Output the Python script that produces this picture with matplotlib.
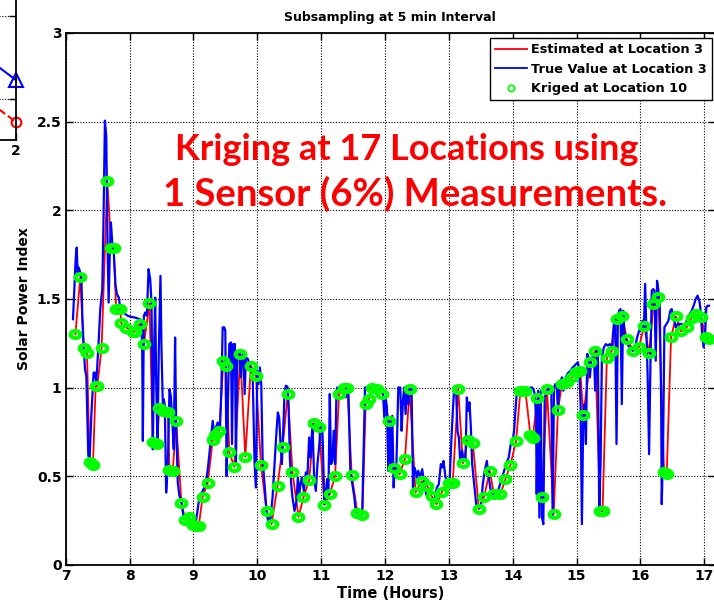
import numpy as np
import matplotlib
matplotlib.use("Agg")
import matplotlib.pyplot as plt
from matplotlib.path import Path
from matplotlib.transforms import Affine2D
from matplotlib.lines import Line2D

# ---------------- data ----------------
true_t = [7.114, 7.156, 7.172, 7.187, 7.203, 7.229, 7.244, 7.260, 7.281, 7.302, 7.323, 7.354, 7.375, 7.401,
          7.437, 7.458, 7.479, 7.510, 7.541, 7.573, 7.593, 7.614, 7.635, 7.656, 7.672, 7.692, 7.708, 7.729,
          7.750, 7.781, 7.802, 7.833, 7.854, 7.896, 7.937, 7.974, 8.026, 8.078, 8.130, 8.182, 8.198, 8.208,
          8.224, 8.245, 8.271, 8.297, 8.323, 8.344, 8.364, 8.385, 8.401, 8.417, 8.437, 8.458, 8.484, 8.500,
          8.521, 8.536, 8.552, 8.573, 8.599, 8.625, 8.646, 8.666, 8.692, 8.713, 8.729, 8.755, 8.781, 8.807,
          8.843, 8.885, 8.937, 8.989,
          9.041, 9.093, 9.145, 9.197, 9.239, 9.275, 9.302, 9.322, 9.354, 9.380, 9.416, 9.437, 9.458, 9.484,
          9.499, 9.520, 9.541, 9.562, 9.588, 9.604, 9.624, 9.650, 9.666, 9.687, 9.718, 9.744, 9.760, 9.781,
          9.802, 9.822, 9.854, 9.874, 9.906, 9.927, 9.958, 9.979, 9.999, 10.020, 10.041, 10.062, 10.083,
          10.109, 10.145, 10.176, 10.208, 10.239, 10.270, 10.301, 10.322, 10.343, 10.364, 10.385, 10.406,
          10.426, 10.447, 10.473, 10.489, 10.510, 10.531, 10.551, 10.583, 10.614, 10.635, 10.656, 10.676,
          10.697, 10.729, 10.760, 10.786, 10.812, 10.833, 10.864, 10.890, 10.916, 10.942, 10.968, 10.994,
          11.020, 11.051,
          11.072, 11.093, 11.114, 11.135, 11.155, 11.176, 11.197, 11.218, 11.239, 11.249, 11.270, 11.291,
          11.322, 11.353, 11.385, 11.405, 11.426, 11.457, 11.489, 11.520, 11.541, 11.572, 11.619, 11.645,
          11.671, 11.687, 11.723, 11.775, 11.827, 11.879, 11.931, 11.968, 11.989, 12.010, 12.030, 12.051,
          12.072, 12.093, 12.114, 12.135, 12.155, 12.176, 12.208, 12.239, 12.260, 12.280, 12.301, 12.322,
          12.343, 12.364, 12.385, 12.416, 12.437, 12.458, 12.478, 12.499, 12.520, 12.551, 12.583, 12.614,
          12.645, 12.676, 12.708, 12.739, 12.780, 12.812, 12.843, 12.874, 12.895, 12.916, 12.947, 12.978,
          13.010, 13.041, 13.062, 13.083,
          13.094, 13.115, 13.135, 13.156, 13.177, 13.208, 13.229, 13.260, 13.281, 13.302, 13.323, 13.344,
          13.365, 13.396, 13.427, 13.469, 13.500, 13.531, 13.562, 13.594, 13.625, 13.656, 13.687, 13.729,
          13.771, 13.802, 13.833, 13.865, 13.896, 13.937, 13.969, 14.000, 14.021, 14.042, 14.062, 14.083,
          14.104, 14.125, 14.156, 14.187, 14.219, 14.250, 14.281, 14.302, 14.323, 14.344, 14.365, 14.375,
          14.396, 14.417, 14.437, 14.458, 14.479, 14.500, 14.521, 14.542, 14.562, 14.583, 14.604, 14.625,
          14.646, 14.667, 14.687, 14.708, 14.729, 14.750, 14.771, 14.792, 14.812, 14.833, 14.854, 14.875,
          14.906, 14.937, 14.969, 14.990, 15.021, 15.042, 15.062, 15.083,
          15.104, 15.125, 15.146, 15.166, 15.187, 15.208, 15.229, 15.250, 15.271, 15.291, 15.312, 15.333,
          15.354, 15.375, 15.396, 15.427, 15.458, 15.489, 15.520, 15.552, 15.583, 15.604, 15.625, 15.646,
          15.666, 15.687, 15.708, 15.729, 15.750, 15.781, 15.812, 15.843, 15.875, 15.916, 15.948, 15.979,
          16.010, 16.031, 16.052, 16.073, 16.093, 16.114, 16.135, 16.156, 16.177, 16.198, 16.218, 16.239,
          16.260, 16.281, 16.302, 16.323, 16.333, 16.354, 16.375, 16.406, 16.437, 16.468, 16.489, 16.520,
          16.552, 16.583, 16.614, 16.646, 16.677, 16.708, 16.739, 16.770, 16.802, 16.833, 16.864, 16.895,
          16.927, 16.947, 16.968, 16.989, 17.010, 17.031, 17.052, 17.073]
true_v = [1.386, 1.725, 1.790, 1.650, 1.678, 1.650, 1.640, 1.405, 1.236, 1.104, 1.066, 0.615, 0.605, 0.840,
          1.085, 1.085, 1.029, 1.217, 1.443, 1.556, 1.969, 2.506, 2.421, 1.781, 1.480, 1.781, 1.932, 1.819,
          1.781, 1.574, 1.527, 1.508, 1.443, 1.424, 1.414, 1.405, 1.399, 1.396, 1.390, 1.382, 1.217, 0.700,
          1.405, 1.424, 1.405, 1.668, 1.612, 1.480, 0.652, 1.217, 1.508, 1.029, 0.690, 1.217, 1.631, 1.217,
          0.897, 0.935, 0.897, 0.408, 0.558, 0.991, 0.953, 0.840, 0.652, 1.283, 0.803, 0.464, 0.389, 0.370,
          0.276, 0.257, 0.238, 0.201,
          0.249, 0.381, 0.418, 0.456, 0.587, 0.719, 0.813, 0.757, 0.776, 0.804, 0.776, 0.983, 1.340, 1.340,
          1.321, 0.503, 0.945, 1.246, 1.255, 0.682, 1.246, 1.246, 0.569, 1.208, 1.199, 1.058, 1.161, 1.208,
          0.964, 1.171, 1.161, 1.133, 1.095, 1.077, 0.569, 0.437, 1.095, 1.020, 1.114, 1.020, 0.606,
          0.475, 0.305, 0.230, 0.268, 0.381, 0.569, 0.757, 0.860, 0.832, 0.682, 0.569, 0.757,
          0.964, 1.011, 1.005, 0.907, 0.606, 0.456, 0.381, 0.305, 0.362, 0.493, 0.399, 0.456,
          0.493, 0.418, 0.522, 0.512, 0.719, 0.606, 0.794, 0.493, 0.418, 0.569, 0.663, 0.794,
          0.757, 0.343,
          0.399, 0.484, 0.399, 0.964, 0.569, 0.587, 0.757, 0.569, 0.964, 1.001, 0.983, 1.001,
          1.001, 1.001, 0.945, 1.001, 1.001, 0.531, 0.456, 0.381, 0.305, 0.286, 0.268, 0.324,
          0.757, 1.001, 1.001, 1.001, 1.001, 1.001, 0.992, 0.964, 0.832, 0.945, 0.889, 0.531,
          0.832, 0.550, 0.841, 0.437, 0.569, 0.531, 1.001, 1.001, 0.757, 0.926, 1.001, 0.851,
          1.001, 0.907, 1.001, 1.001, 0.437, 0.550, 0.531, 0.493, 0.531, 0.493, 0.540, 0.456,
          0.399, 0.381, 0.371, 0.352, 0.381, 0.437, 0.456, 0.569, 0.550, 0.587, 0.493, 0.475,
          0.465, 0.719, 0.870, 1.001,
          1.001, 0.964, 0.757, 0.719, 0.587, 0.644, 0.587, 0.587, 0.945, 0.870, 0.917, 0.776,
          0.569, 0.456, 0.343, 0.324, 0.324, 0.456, 0.531, 0.587, 0.493, 0.418, 0.399, 0.399,
          0.418, 0.456, 0.493, 0.531, 0.569, 0.606, 0.682, 0.700, 0.757, 0.870, 0.964, 0.964,
          0.983, 1.001, 0.983, 1.001, 0.983, 0.992, 1.001, 1.001, 0.992, 0.964, 0.832, 0.399,
          0.983, 0.268, 0.983, 0.268, 0.230, 0.945, 0.964, 0.983, 1.001, 0.983, 1.001, 0.268,
          1.001, 1.020, 1.020, 0.870, 1.020, 1.039, 1.058, 0.983, 1.039, 1.058, 1.077, 1.086,
          1.095, 1.114, 1.124, 1.133, 1.143, 1.095, 0.907, 0.230,
          0.832, 0.907, 0.682, 1.190, 1.171, 1.058, 1.152, 1.171, 1.190, 0.983, 1.227, 1.208,
          0.305, 0.569, 1.171, 1.227, 1.246, 1.237, 1.246, 1.227, 1.359, 1.396, 0.682, 1.396,
          1.434, 1.443, 0.907, 1.434, 1.284, 1.265, 1.237, 1.218, 1.208, 1.227, 1.284, 1.321,
          1.340, 1.377, 1.321, 1.585, 1.321, 1.039, 0.625, 1.133, 1.547, 1.556, 1.547, 1.152,
          1.603, 1.547, 1.453, 0.945, 0.343, 0.663, 1.340, 1.359, 1.377, 1.434, 1.443, 1.396,
          1.340, 1.359, 1.359, 1.359, 1.340, 1.359, 1.396, 1.415, 1.434, 1.462, 1.500, 1.519,
          1.481, 1.415, 1.284, 1.227, 1.284, 1.453, 1.462, 1.462]

kriged_t = [7.151, 7.229, 7.281, 7.333, 7.375, 7.427, 7.469, 7.495, 7.562, 7.651, 7.713, 7.750, 7.791,
            7.854, 7.870, 7.948, 8.052, 8.078, 8.156, 8.224, 8.312, 8.364, 8.427, 8.468, 8.531, 8.599,
            8.625, 8.677, 8.729, 8.812, 8.875, 8.927, 8.989,
            9.041, 9.083, 9.145, 9.223, 9.302, 9.343, 9.406, 9.468, 9.510, 9.562, 9.640, 9.734, 9.812,
            9.900, 9.979, 10.057, 10.145, 10.223, 10.317, 10.395, 10.478, 10.551, 10.645, 10.723,
            10.812, 10.890, 10.968, 11.051,
            11.135, 11.218, 11.280, 11.359, 11.411, 11.478, 11.567, 11.645, 11.697, 11.749, 11.801,
            11.879, 11.958, 12.062, 12.140, 12.228, 12.312, 12.385, 12.478, 12.572, 12.661, 12.728,
            12.806, 12.895, 12.999, 13.060,
            13.146, 13.219, 13.297, 13.375, 13.469, 13.552, 13.641, 13.703, 13.807, 13.885, 13.963,
            14.052, 14.120, 14.198, 14.276, 14.312, 14.385, 14.458, 14.536, 14.641, 14.708, 14.771,
            14.849, 14.927, 14.990, 15.057, 15.104,
            15.213, 15.291, 15.369, 15.406, 15.474, 15.552, 15.630, 15.718, 15.786, 15.890, 15.979,
            16.057, 16.135, 16.203, 16.281, 16.370, 16.411, 16.479, 16.557, 16.635, 16.724, 16.802,
            16.864, 16.948, 17.020, 17.073]
kriged_v = [1.300, 1.625, 1.222, 1.198, 0.583, 0.564, 1.008, 1.008, 1.226, 2.167, 1.790, 1.785, 1.443,
            1.443, 1.362, 1.339, 1.315, 1.315, 1.358, 1.245, 1.475, 0.694, 0.684, 0.887, 0.868, 0.865,
            0.536, 0.530, 0.812, 0.351, 0.252, 0.270, 0.223,
            0.221, 0.221, 0.386, 0.460, 0.704, 0.734, 0.757, 1.148, 1.124, 0.635, 0.554, 1.190, 0.610,
            1.124, 1.063, 0.565, 0.305, 0.230, 0.446, 0.663, 0.967, 0.522, 0.271, 0.381,
            0.478, 0.800, 0.776, 0.339,
            0.399, 0.503, 0.964, 0.996, 0.996, 0.507, 0.296, 0.283, 0.907, 0.935, 0.996,
            0.992, 0.967, 0.813, 0.546, 0.512, 0.597, 0.992, 0.409, 0.471, 0.446, 0.390,
            0.343, 0.414, 0.465, 0.462,
            0.992, 0.574, 0.704, 0.690, 0.315, 0.386, 0.531, 0.403, 0.399, 0.484, 0.563,
            0.700, 0.983, 0.983, 0.734, 0.715, 0.939, 0.381, 0.992, 0.287, 0.875, 1.020,
            1.030, 1.058, 1.086, 1.095, 0.847,
            1.143, 1.208, 0.305, 0.302, 1.170, 1.208, 1.387, 1.404, 1.274, 1.208, 1.230,
            1.350, 1.193, 1.472, 1.509, 0.522, 0.512, 1.284, 1.402, 1.317, 1.340, 1.393,
            1.415, 1.400, 1.284, 1.274]

# neighbouring (cut-off) panel
side_x = [1.0, 2.0]
side_blue = [1.515, 0.611]
side_red = [1.262, 0.358]

x_ticks = [7, 8, 9, 10, 11, 12, 13, 14, 15, 16, 17]
y_ticks = [0, 0.5, 1, 1.5, 2, 2.5, 3]
y_ticklabels = ["0", "0.5", "1", "1.5", "2", "2.5", "3"]

# ---------------- figure ----------------
W, H = 714, 601
fig = plt.figure(figsize=(W / 100, H / 100), dpi=100)
tick_font = ['DejaVu Sans']

def fx(px):
    return px / W

def fy(py):
    return 1 - py / H

# main axes
ax = fig.add_axes([fx(65.7), fy(565), fx(715.0) - fx(65.7), fy(33) - fy(565)])
ax.set_xlim(7, 17.167)
ax.set_ylim(0, 3)

ax.plot(kriged_t, kriged_v, color=(1, 0, 0), lw=1.3, zorder=3, label="Estimated at Location 3")
ax.plot(true_t, true_v, color=(0, 0, 1), lw=1.6, zorder=4, label="True Value at Location 3")

ell = Path.unit_circle().transformed(Affine2D().scale(1.4, 1.0))
ax.plot(kriged_t, kriged_v, linestyle='none', marker=ell, markersize=7,
        markerfacecolor='none', markeredgecolor=(0, 1, 0), markeredgewidth=3.0, zorder=5)

ax.set_xticks(x_ticks)
ax.set_yticks(y_ticks)
ax.set_yticklabels(y_ticklabels)
ax.grid(True, color='black', linestyle=(0, (1, 1.5)), linewidth=0.8)
ax.tick_params(direction='in', length=5, width=1, top=True, right=True,
               labelsize=10, pad=3)
for lab in ax.get_xticklabels() + ax.get_yticklabels():
    lab.set_fontfamily(tick_font)
    lab.set_fontweight('bold')
for sp in ax.spines.values():
    sp.set_linewidth(1.3)

ax.set_title("Subsampling at 5 min Interval", fontsize=9, fontweight='bold',
             family=tick_font, pad=9)
ax.set_xlabel("Time (Hours)", fontsize=10.5, fontweight='bold', family=tick_font, labelpad=2)
ax.set_ylabel("Solar Power Index", fontsize=10, fontweight='bold', family=tick_font, labelpad=4)

fig.text(fx(175), fy(160), "Kriging at 17 Locations using", color=(1, 0, 0),
         fontsize=26, fontweight='bold', family=['Lato', 'DejaVu Sans'], ha='left', va='baseline')
fig.text(fx(163), fy(206), "1 Sensor (6%) Measurements.", color=(1, 0, 0),
         fontsize=27.5, fontweight='bold', family=['Lato', 'DejaVu Sans'], ha='left', va='baseline')

h_red = Line2D([], [], color=(1, 0, 0), lw=1.3)
h_blue = Line2D([], [], color=(0, 0, 1), lw=1.3)
h_green = Line2D([], [], linestyle='none', marker='o', markersize=4.5, markerfacecolor='none',
                 markeredgecolor=(0, 1, 0), markeredgewidth=1.3)
leg = fig.legend([h_red, h_blue, h_green],
                 ["Estimated at Location 3", "True Value at Location 3", "Kriged at Location 10"],
                 loc='upper right', bbox_to_anchor=(fx(712), fy(38)), borderaxespad=0,
                 fancybox=False, framealpha=1, edgecolor='black', handlelength=2.5,
                 handletextpad=0.3, labelspacing=0.5, borderpad=0.4,
                 prop={'family': tick_font, 'weight': 'bold', 'size': 9.3})
leg.get_frame().set_linewidth(1.0)
leg.set_zorder(10)

# cut-off neighbouring panel on the left
ax2 = fig.add_axes([fx(16 - 200), fy(140), 200 / W, 290.5 / H])
ax2.set_xlim(1, 2)
ax2.set_ylim(0.25, 2.0)
ax2.plot(side_x, side_blue, color=(0, 0, 1), lw=1.5, marker='^', markersize=10,
         markerfacecolor='none', markeredgewidth=1.5)
ax2.plot(side_x, side_red, color=(1, 0, 0), lw=1.5, linestyle='--', marker='o', markersize=7,
         markerfacecolor='none', markeredgewidth=1.5)
ax2.set_xticks([1, 2])
ax2.set_xticklabels(["", "2"])
ax2.set_yticks([0.5, 1.0, 1.5])
ax2.set_yticklabels(["", "", ""])
ax2.grid(True, color='black', linestyle=(0, (1, 1.5)), linewidth=0.8)
ax2.tick_params(direction='in', length=5, width=1, top=True, right=True, labelsize=10, pad=3)
for lab in ax2.get_xticklabels():
    lab.set_fontfamily(tick_font)
    lab.set_fontweight('bold')
for m in ax2.lines:
    m.set_clip_on(False)
for sp in ax2.spines.values():
    sp.set_linewidth(1.3)

fig.savefig("out.png", dpi=100)
